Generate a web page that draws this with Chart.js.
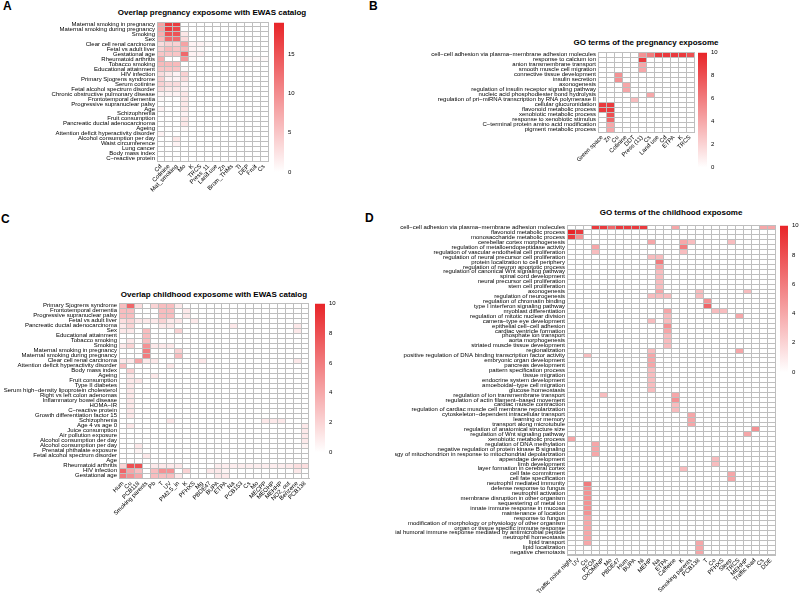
<!DOCTYPE html>
<html>
<head>
<meta charset="utf-8">
<title>Pregnancy and childhood exposome heatmaps</title>
<script src="https://cdn.jsdelivr.net/npm/chart.js@4.4.1/dist/chart.umd.min.js"></script>
<style>
  html, body { margin: 0; padding: 0; background: #fff; overflow: hidden; }
  #page { position: relative; width: 800px; height: 594px; overflow: hidden; font-family: "Liberation Sans", Arial, sans-serif; color: #000; }
  #page canvas { position: absolute; }
  .tag { position: absolute; font-size: 12px; font-weight: bold; line-height: 12px; }
  .title { position: absolute; width: 400px; text-align: center; font-size: 8px; font-weight: bold; line-height: 10px; white-space: nowrap; }
</style>
</head>
<body>
<div id="page">
  <div class="tag" style="left:3px;top:0px">A</div>
  <div class="tag" style="left:369px;top:0px">B</div>
  <div class="tag" style="left:1px;top:213px">C</div>
  <div class="tag" style="left:365px;top:212px">D</div>

  <div class="title" style="left:12px;top:8px">Overlap pregnancy exposome with EWAS catalog</div>
  <div class="title" style="left:446px;top:38px">GO terms of the pregnancy exposome</div>
  <div class="title" style="left:14px;top:290px">Overlap childhood exposome with EWAS catalog</div>
  <div class="title" style="left:471px;top:208px">GO terms of the childhood exposome</div>

  <canvas id="heatA" width="272" height="190" style="left:0px;top:14px"></canvas>
  <canvas id="barA" width="30" height="165" style="left:270px;top:15px"></canvas>
  <canvas id="heatB" width="280" height="132" style="left:420px;top:40px"></canvas>
  <canvas id="barB" width="30" height="130" style="left:694px;top:45px"></canvas>
  <canvas id="heatC" width="313" height="240" style="left:0px;top:295px"></canvas>
  <canvas id="barC" width="32" height="165" style="left:311px;top:296px"></canvas>
  <canvas id="heatD" width="384" height="379" style="left:395px;top:215px"></canvas>
  <canvas id="barD" width="24" height="162" style="left:776px;top:218px"></canvas>
</div>
<script>
// A: pregnancy exposome vs EWAS catalog
const rowsA = ["Maternal smoking in pregnancy", "Maternal smoking during pregnancy", "Smoking", "Sex",
  "Clear cell renal carcinoma", "Fetal vs adult liver", "Gestational age", "Rheumatoid arthritis",
  "Tobacco smoking", "Educational attainment", "HIV infection", "Primary Sjogrens syndrome",
  "Serum cotinine", "Fetal alcohol spectrum disorder", "Chronic obstructive pulmonary disease",
  "Frontotemporal dementia", "Progressive supranuclear palsy", "Age", "Schizophrenia",
  "Fruit consumption", "Pancreatic ductal adenocarcinoma", "Ageing",
  "Attention deficit hyperactivity disorder", "Alcohol consumption per day", "Waist circumference",
  "Lung cancer", "Body mass index", "C\u2212reactive protein"];
const colsA = ["Cd", "Cotinine", "Mat_smoking", "Mo", "K", "TRCS", "Press_11", "Land.use", "Zn",
  "Brom_THMs", "Ti", "DEP", "Fruit", "Cs"];
const valuesA = [
  [8, 17, 17, 0, 0,   0, 0, 0, 0, 0,   0, 0, 0, 0],
  [8, 17, 16, 0, 0,   0, 0, 0, 0, 0,   0, 0, 0, 0],
  [7, 15, 15, 2, 0,   0, 0, 0, 0, 0,   0, 0, 0, 0],
  [6, 13, 13, 3, 0,   0, 0, 0, 0, 0,   0, 0, 0, 0],
  [3, 4, 4, 8, 1,     1, 0.5, 0, 0, 0, 0, 0, 0, 0],
  [4, 6, 5, 6, 1,     0.5, 0, 0, 0, 0, 0, 0, 0, 0],
  [5, 5, 5, 13, 1,    1, 0, 0, 0, 0,   0, 0, 0, 0],
  [7, 0, 0, 9, 0.5,   0, 0, 0, 0, 0,   0.5, 0.5, 0.5, 0.5],
  [6, 6, 6, 0, 0,     0, 0, 0, 0, 0,   0, 0, 0, 0],
  [5, 5, 5, 0.5, 0,   0, 0, 0, 0, 0,   0, 0, 0, 0],
  [3, 2, 1, 4, 0,     0, 0, 0, 0, 0,   0, 0, 0, 0],
  [4, 1, 1, 3, 0,     0, 0, 0, 0, 0,   0, 0, 0, 0],
  [4, 3, 3, 1, 0,     0, 0, 0, 0, 0,   0, 0, 0, 0],
  [3, 2, 2, 1, 0,     0, 0, 0, 0, 0,   0, 0, 0, 0],
  [1, 1, 1, 2, 0,     0, 0, 0, 0, 0,   0, 0, 0, 0],
  [0.5, 0, 0, 2, 0,   0, 0, 0, 0, 0,   0, 0, 0, 0],
  [0, 0, 0, 2, 0,     0, 0, 0, 0, 0,   0, 0, 0, 0],
  [1, 0, 0, 2, 0,     0, 0, 0, 0, 0,   0, 0, 0, 0],
  [0, 0, 0, 1, 0,     0, 0, 0, 0, 0,   0, 0, 0, 0],
  [0, 0, 0, 2, 0,     0, 0, 0, 0, 0,   0, 0, 0, 0],
  [0, 0, 0, 2, 0,     0, 0, 0, 0, 0,   0, 0, 0, 0],
  [0, 0, 0, 0.5, 0,   0, 0, 0, 0, 0,   0, 0, 0, 0],
  [1, 0, 0, 0, 0,     0, 0, 0, 0, 0,   0, 0, 0, 0],
  [0, 0, 2, 0, 0,     0, 0, 0, 0, 0,   0, 0, 0, 0],
  [0, 0, 1, 0, 0,     0, 0, 0, 0, 0,   0, 0, 0, 0],
  [0, 0, 0, 0, 0,     0, 0, 0, 0, 0,   0, 0, 0, 0],
  [0, 0, 0, 0, 0,     0, 0, 0, 0, 0,   0, 0, 0, 0],
  [0, 0, 0, 0, 0,     0, 0, 0, 0, 0,   0, 0, 0, 0]
];
const maxA = 19, stepA = 5;

// B: GO terms, pregnancy
const rowsB = ["cell\u2212cell adhesion via plasma\u2212membrane adhesion molecules", "response to calcium ion",
  "anion transmembrane transport", "smooth muscle cell migration", "connective tissue development",
  "insulin secretion", "axonogenesis", "regulation of insulin receptor signaling pathway",
  "nucleic acid phosphodiester bond hydrolysis",
  "regulation of pri\u2212miRNA transcription by RNA polymerase II", "cellular glucuronidation",
  "flavonoid metabolic process", "xenobiotic metabolic process", "response to xenobiotic stimulus",
  "C\u2212terminal protein amino acid modification", "pigment metabolic process"];
const colsB = ["Green space", "Zn", "Cu", "Cotinine", "DDT", "Press (11)", "Cs", "Land use", "Cd",
  "ETPA", "K", "TRCS"];
const valuesB = [
  [0, 0, 0, 0, 0, 5, 6, 9, 9, 9, 9, 8],
  [0, 0, 0, 0, 0, 9, 0, 0, 0, 0, 0, 0],
  [0, 0, 0, 0, 0, 4, 0, 0, 0, 0, 0, 0],
  [0, 0, 0, 0, 0, 4, 0, 0, 0, 0, 0, 0],
  [0, 0, 5, 0, 0, 0, 0, 0, 0, 0, 0, 0],
  [0, 0, 5, 0, 0, 0, 0, 0, 0, 0, 0, 0],
  [0, 0, 0, 4, 0, 0, 0, 0, 0, 0, 0, 0],
  [0, 0, 0, 4, 0, 0, 0, 0, 0, 0, 0, 0],
  [0, 0, 0, 0, 0, 0, 4, 0, 0, 0, 0, 0],
  [0, 0, 0, 0, 3, 0, 0, 0, 0, 0, 0, 0],
  [9, 9, 0, 0, 0, 0, 0, 0, 0, 0, 0, 0],
  [9, 9, 0, 0, 0, 0, 0, 0, 0, 0, 0, 0],
  [0, 8, 0, 0, 0, 0, 0, 0, 0, 0, 0, 0],
  [0, 7, 0, 0, 0, 0, 0, 0, 0, 0, 0, 0],
  [0, 4, 0, 0, 0, 0, 0, 0, 0, 0, 0, 0],
  [0, 4, 0, 0, 0, 0, 0, 0, 0, 0, 0, 0]
];
const maxB = 10, stepB = 2;

// C: childhood exposome vs EWAS catalog
const rowsC = ["Primary Sjogrens syndrome", "Frontotemporal dementia", "Progressive supranuclear palsy",
  "Fetal vs adult liver", "Pancreatic ductal adenocarcinoma", "Sex", "Educational attainment",
  "Tobacco smoking", "Smoking", "Maternal smoking in pregnancy", "Maternal smoking during pregnancy",
  "Clear cell renal carcinoma", "Attention deficit hyperactivity disorder", "Body mass index", "Ageing",
  "Fruit consumption", "Type II diabetes", "Serum high\u2212density lipoprotein cholesterol",
  "Right vs left colon adenomas", "Inflammatory bowel disease", "HOMA\u2212IR", "C\u2212reactive protein",
  "Growth differentiation factor 15", "Schizophrenia", "Age 4 vs age 0", "Juice consumption",
  "Air pollution exposure", "Alcohol consumption der day", "Alcohol consumption per day",
  "Prenatal phthalate exposure", "Fetal alcohol spectrum disorder", "Age", "Rheumatoid arthritis",
  "HIV infection", "Gestational age"];
const colsC = ["Hum", "Cu", "PCB118", "Smoking parents", "Pb", "T", "UV", "PM2.5_in", "K", "PFHXS",
  "Mg", "PBDE47", "BUPA", "ETPA", "Na", "PCB153", "Cs", "Mo", "MECPP", "MEOHP", "MEHHP", "NO2_out",
  "Benzene", "PCB138"];
const valuesC = [
  [3, 7, 1.5, 0, 2,   3, 3, 1, 0, 0,   0, 0, 0, 0, 0,   0, 0, 0, 0, 0,   0, 0, 0, 0],
  [3, 3, 0, 0, 0,     3, 3, 0, 1, 0,   0, 0, 0, 0, 0,   0, 0, 0, 0, 0,   0, 0, 0, 0],
  [3, 3, 0, 0, 0,     3, 3, 0, 1, 0,   0, 0, 0, 0, 0,   0, 0, 0, 0, 0,   0, 0, 0, 0],
  [1.5, 2, 1, 1, 1,   2, 1, 1, 0, 1,   0, 0, 0, 0, 0,   0, 0, 0, 0, 0,   0, 0, 0, 0],
  [1, 2, 0, 0, 0,     1, 1, 0, 0, 0,   0, 0, 0, 0, 1,   0, 0, 0, 0, 0,   0, 0, 1, 0],
  [1, 1, 0, 3, 0,     0, 0, 2, 0, 0,   0, 0, 0, 0, 0,   0, 0, 0, 0, 0,   0, 0, 1, 0],
  [0, 0, 0, 3, 0,     0, 0, 0, 0, 0,   0, 0, 0, 0, 0,   0, 0, 0, 0, 0,   0, 0, 0, 0],
  [0, 1, 0, 3, 0,     0, 0, 0, 0, 0,   0, 0, 0, 0, 0,   0, 0, 0, 0, 0,   0, 0, 0, 0],
  [1, 2, 0, 5, 1,     1, 1, 0, 0, 0,   0, 0, 0, 0, 0,   0, 0, 0, 0, 0,   0, 0, 0, 0],
  [0, 0, 0, 6, 0,     0, 0, 2, 0, 0,   0, 0, 0, 0, 0,   0, 0, 0, 0, 0,   0, 0, 0, 0],
  [0, 0, 0, 6, 0,     0, 0, 3, 0, 0,   0, 0, 0, 0, 0,   0, 0, 0, 0, 0,   0, 0, 0, 0],
  [1, 1, 4, 1, 1,     0, 0, 0, 0, 0,   1, 0, 0, 0, 0,   0, 0, 0, 0, 0,   0, 0, 1, 0],
  [3, 0, 0, 0, 0,     0, 1, 0, 0, 0,   0, 0, 0, 0, 0,   0, 0, 0, 0, 0,   0, 0, 0, 0],
  [0, 2, 0, 0, 0,     0, 0, 0, 0, 0,   0, 0, 0, 0, 0,   0, 0, 0, 0, 0,   0, 0, 0, 0],
  [0, 1, 0, 0, 1,     0, 0, 0, 0, 0,   0, 0, 0, 0, 0,   0, 0, 0, 0, 0,   0, 0, 0, 0],
  [0, 1, 1, 0, 0,     0, 0, 0, 0, 0,   0, 0, 0, 0, 0,   0, 0, 0, 0, 0,   0, 0, 0, 0],
  [0, 1, 0, 0, 0,     0, 0, 0, 0, 0,   0, 0, 0, 0, 0,   0, 0, 0, 0, 0,   0, 0, 0, 0],
  [0, 1, 0, 0, 0,     0, 0, 0, 0, 0,   0, 0, 0, 0, 0,   0, 0, 0, 0, 0,   0, 0, 0, 0],
  [0, 1, 0, 0, 0,     0, 0, 0, 0, 0,   0, 0, 0, 0, 0,   0, 0, 0, 0, 0,   0, 0, 0, 0],
  [0, 1, 0, 0, 0,     0, 0, 0, 0, 0,   0, 0, 0, 0, 0,   0, 0, 0, 0, 0,   0, 0, 0, 0],
  [0, 1, 0, 0, 0,     0, 0, 0, 0, 0,   0, 0, 0, 0, 0,   0, 0, 0, 0, 0,   0, 0, 0, 0],
  [0, 1, 0, 0, 0,     0, 0, 0, 0, 0,   0, 0, 0, 0, 0,   0, 0, 0, 0, 0,   0, 0, 0, 0],
  [0, 1, 0, 0, 0,     0, 0, 0, 0, 0,   0, 0, 0, 0, 0,   0, 0, 0, 0, 0,   0, 0, 0, 0],
  [0, 0, 0, 0, 0,     0, 1, 0, 0, 0,   0, 0, 0, 0, 0,   0, 0, 0, 1, 1,   1, 0, 0, 0],
  [0, 1, 0, 0, 0,     0, 0, 0, 0, 0,   0, 0, 0, 0, 0,   0, 0, 0, 0, 0,   0, 0, 0, 1],
  [0, 0, 0, 0, 0,     0, 0, 0, 0, 0,   0, 0, 0, 0, 0,   0, 0, 0, 0, 0,   0, 0, 0, 1],
  [0, 0, 0, 0, 0,     0, 0, 0, 0, 0,   0, 0, 0, 0, 0,   0, 0, 0, 0, 0,   0, 0, 0, 1],
  [0, 0, 0, 0, 0,     0, 0, 0, 0, 0,   0, 0, 0, 0, 0,   0, 0, 0, 0, 0,   0, 0, 0, 1],
  [0, 0, 1, 0, 0,     0, 0, 0, 0, 0,   0, 0, 0, 0, 0,   0, 0, 0, 0, 0,   0, 0, 0, 0.5],
  [0, 0, 0.5, 0, 0,   0, 0, 0, 0, 0,   0, 0, 0, 0, 0,   0, 0, 0, 0, 0,   0, 0, 0, 0],
  [0, 0, 0, 1, 0,     0, 0, 0, 0, 0,   0, 0, 0, 0, 0,   0, 0, 0, 0, 0,   0, 0, 0, 0],
  [0, 0, 0, 0, 0,     0, 0, 0, 0, 0,   0, 0, 0, 0, 0,   0, 0, 0, 0, 0,   0, 0, 0, 0],
  [2, 8, 8, 0, 1,     1, 1, 1, 0, 0,   0, 0, 0.8, 0.8, 0.8,   0.8, 0.8, 0.8, 0.8, 0.8,   0.8, 1, 1.5, 1.5],
  [7, 4, 3, 0, 3,     5, 5, 0, 2, 0,   0, 1, 1, 0.5, 0, 0, 0, 0, 0, 0,   0, 0, 1, 0],
  [6, 5, 4, 0, 3,     3, 3, 1, 0, 0,   0, 0, 1, 1, 0,   0, 0, 0, 0, 0,   0, 0, 0, 0]
];
const maxC = 10, stepC = 2;

// D: GO terms, childhood
const rowsD = ["cell\u2212cell adhesion via plasma\u2212membrane adhesion molecules", "flavonoid metabolic process",
  "monosaccharide metabolic process", "cerebellar cortex morphogenesis",
  "regulation of metalloendopeptidase activity", "regulation of vascular endothelial cell proliferation",
  "regulation of neural precursor cell proliferation", "protein localization to cell periphery",
  "regulation of neuron apoptotic process", "regulation of canonical Wnt signaling pathway",
  "spinal cord development", "neural precursor cell proliferation", "stem cell proliferation",
  "axonogenesis", "regulation of neurogenesis", "regulation of chromatin binding",
  "type I interferon signaling pathway", "myoblast differentiation",
  "regulation of mitotic nuclear division", "camera\u2212type eye development",
  "epithelial cell\u2212cell adhesion", "cardiac ventricle formation", "phosphate ion transport",
  "aorta morphogenesis", "striated muscle tissue development", "regionalization",
  "positive regulation of DNA binding transcription factor activity", "embryonic organ development",
  "pancreas development", "pattern specification process", "tissue migration",
  "endocrine system development", "amoeboidal\u2212type cell migration", "glucose homeostasis",
  "regulation of ion transmembrane transport", "regulation of actin filament\u2212based movement",
  "cardiac muscle contraction", "regulation of cardiac muscle cell membrane repolarization",
  "cytoskeleton\u2212dependent intracellular transport", "learning or memory",
  "transport along microtubule", "regulation of anatomical structure size",
  "regulation of Wnt signaling pathway", "xenobiotic metabolic process",
  "regulation of DNA methylation", "negative regulation of protein kinase B signaling",
  "regulation of autophagy of mitochondrion in response to mitochondrial depolarization",
  "appendage development", "limb development", "layer formation in cerebral cortex",
  "cell fate commitment", "cell fate specification", "neutrophil mediated immunity",
  "defense response to fungus", "neutrophil activation", "membrane disruption in other organism",
  "sequestering of metal ion", "innate immune response in mucosa", "maintenance of location",
  "response to fungus", "modification of morphology or physiology of other organism",
  "organ or tissue specific immune response",
  "antimicrobial humoral immune response mediated by antimicrobial peptide",
  "neutrophil homeostasis", "lipid transport", "lipid localization", "negative chemotaxis"];
const colsD = ["Traffic noise night", "UV", "Cu", "PFOA", "OXOMINP", "Mo", "PBDE47", "Hum", "BUPA",
  "Ni", "MEHP", "Na", "ETPA", "Caffeine", "K", "Smoking parents", "PCB138", "T", "Co", "PFHXS",
  "Sleep", "TRCS", "MEHHP", "Traffic load", "Cs", "DDE"];
const valuesD = [
  [0, 0, 0, 9, 9,   7, 9, 9, 9, 9,   0, 0, 0, 4, 0,   0, 0, 0, 0, 0,   0, 0, 0, 0, 4,   4],
  [10, 9, 0, 0, 0,  0, 0, 0, 0, 0,   0, 0, 0, 0, 0,   0, 0, 0, 0, 0,   0, 0, 0, 0, 0,   0],
  [9, 5, 0, 0, 0,   0, 0, 0, 0, 0,   0, 0, 0, 0, 0,   0, 0, 0, 0, 0,   0, 0, 0, 0, 0,   0],
  [0, 0, 0, 0, 0,   0, 0, 0, 0, 0,   4, 0, 0, 0, 4,   3, 0, 0, 0, 0,   3, 0, 0, 0, 0,   0],
  [0, 0, 0, 4, 0,   0, 0, 0, 0, 0,   0, 0, 0, 0, 6,   0, 0, 0, 0, 0,   0, 0, 0, 0, 0,   0],
  [0, 0, 0, 3, 0,   0, 0, 0, 0, 0,   0, 0, 0, 0, 3,   0, 0, 0, 0, 0,   0, 0, 0, 0, 0,   0],
  [0, 0, 0, 0, 0,   0, 0, 0, 0, 0,   3, 3, 0, 0, 0,   0, 0, 0, 0, 0,   0, 0, 0, 0, 0,   0],
  [0, 0, 0, 0, 0,   0, 0, 0, 0, 0,   0, 6, 0, 0, 0,   0, 0, 0, 0, 0,   0, 0, 0, 0, 0,   0],
  [0, 0, 0, 0, 0,   0, 0, 0, 0, 0,   0, 4, 0, 0, 0,   0, 0, 0, 0, 0,   0, 0, 0, 0, 0,   0],
  [0, 0, 0, 0, 0,   0, 0, 0, 0, 0,   0, 3, 0, 0, 0,   0, 0, 0, 0, 0,   0, 0, 0, 0, 0,   0],
  [0, 0, 0, 0, 0,   0, 0, 0, 0, 0,   0, 3, 0, 0, 0,   0, 0, 0, 0, 0,   0, 0, 0, 0, 0,   0],
  [0, 0, 0, 0, 0,   0, 0, 0, 0, 0,   0, 3, 0, 0, 0,   0, 0, 0, 0, 0,   0, 0, 0, 0, 0,   0],
  [0, 0, 0, 0, 0,   0, 0, 0, 0, 0,   0, 3, 0, 0, 0,   0, 0, 0, 0, 0,   0, 0, 0, 0, 0,   0],
  [0, 0, 0, 0, 0,   0, 0, 0, 0, 0,   0, 4, 0, 0, 0,   0, 3, 0, 0, 0,   0, 0, 3, 0, 0,   0],
  [0, 0, 0, 0, 0,   0, 0, 0, 0, 0,   3, 3, 3, 0, 0,   0, 3, 0, 0, 0,   0, 0, 0, 0, 0,   0],
  [0, 0, 0, 0, 0,   0, 0, 0, 0, 0,   0, 0, 0, 0, 0,   0, 0, 5, 0, 0,   0, 0, 0, 0, 0,   0],
  [0, 0, 0, 0, 0,   0, 0, 0, 0, 0,   0, 0, 0, 0, 0,   0, 0, 7, 0, 0,   0, 0, 0, 0, 0,   0],
  [0, 0, 0, 0, 0,   0, 0, 0, 0, 0,   0, 0, 4, 0, 0,   0, 0, 0, 3, 3,   0, 0, 0, 0, 0,   0],
  [0, 0, 0, 0, 0,   0, 0, 0, 0, 0,   0, 0, 3, 0, 0,   0, 0, 0, 0, 0,   0, 4, 0, 0, 0,   0],
  [0, 0, 0, 0, 0,   0, 0, 0, 0, 0,   3, 0, 3, 0, 0,   0, 0, 0, 0, 0,   0, 0, 0, 0, 0,   0],
  [0, 0, 0, 0, 0,   0, 0, 0, 0, 0,   0, 0, 5, 0, 0,   0, 0, 0, 0, 0,   0, 0, 0, 0, 0,   0],
  [0, 0, 0, 0, 0,   0, 0, 0, 0, 0,   0, 0, 4, 0, 0,   0, 0, 0, 0, 0,   0, 0, 0, 0, 0,   0],
  [0, 0, 0, 0, 0,   0, 0, 0, 0, 0,   0, 0, 3, 0, 0,   0, 0, 0, 0, 0,   0, 0, 0, 0, 0,   0],
  [0, 0, 0, 0, 0,   0, 0, 0, 0, 0,   0, 0, 3, 0, 0,   0, 0, 0, 0, 0,   0, 0, 0, 0, 0,   0],
  [0, 0, 0, 0, 0,   0, 0, 0, 0, 0,   0, 0, 3, 0, 0,   0, 0, 0, 0, 0,   0, 0, 0, 0, 0,   0],
  [0, 0, 0, 0, 0,   0, 0, 0, 0, 0,   3, 0, 0, 0, 0,   0, 0, 0, 0, 0,   0, 4, 0, 0, 0,   0],
  [0, 0, 3, 0, 0,   0, 0, 0, 0, 0,   4, 0, 0, 0, 0,   0, 0, 0, 0, 0,   0, 0, 0, 0, 0,   0],
  [0, 0, 0, 0, 0,   0, 0, 0, 0, 0,   4, 0, 0, 0, 0,   0, 0, 0, 0, 0,   0, 0, 0, 0, 0,   0],
  [0, 0, 0, 0, 0,   0, 0, 0, 0, 0,   4, 0, 0, 0, 0,   0, 0, 0, 0, 0,   0, 0, 0, 0, 0,   0],
  [0, 0, 0, 0, 0,   0, 0, 0, 0, 0,   3, 0, 0, 0, 0,   0, 0, 0, 0, 0,   0, 0, 0, 0, 0,   0],
  [0, 0, 0, 0, 0,   0, 0, 0, 0, 0,   3, 0, 0, 0, 0,   0, 0, 0, 0, 0,   0, 0, 0, 0, 0,   0],
  [0, 0, 0, 0, 0,   0, 0, 0, 0, 0,   3, 0, 0, 0, 0,   0, 0, 0, 0, 0,   0, 0, 0, 0, 0,   0],
  [0, 0, 0, 0, 0,   0, 0, 0, 0, 0,   3, 0, 0, 0, 0,   0, 0, 0, 0, 0,   0, 0, 0, 0, 0,   0],
  [0, 0, 0, 0, 0,   0, 0, 0, 0, 0,   3, 0, 0, 0, 0,   0, 0, 0, 0, 0,   0, 0, 0, 0, 0,   0],
  [0, 0, 0, 0, 3,   0, 0, 0, 0, 0,   0, 0, 0, 4, 0,   0, 0, 0, 0, 0,   0, 0, 0, 0, 0,   0],
  [0, 0, 0, 0, 0,   0, 0, 0, 0, 0,   0, 0, 0, 5, 0,   0, 0, 0, 0, 0,   0, 0, 0, 0, 0,   0],
  [0, 0, 0, 0, 0,   0, 0, 0, 0, 0,   0, 0, 0, 3, 0,   0, 0, 0, 0, 0,   0, 0, 0, 0, 0,   0],
  [0, 0, 0, 0, 0,   0, 0, 0, 0, 0,   0, 0, 0, 3, 0,   0, 0, 0, 0, 0,   0, 0, 0, 0, 0,   0],
  [0, 0, 0, 0, 0,   0, 0, 0, 0, 0,   0, 0, 0, 0, 0,   4, 0, 0, 0, 0,   0, 0, 0, 0, 0,   0],
  [0, 0, 0, 0, 0,   0, 0, 0, 0, 0,   0, 0, 0, 0, 0,   4, 0, 0, 0, 0,   0, 0, 0, 0, 0,   0],
  [0, 0, 0, 0, 0,   0, 0, 0, 0, 0,   0, 0, 0, 0, 0,   4, 0, 0, 0, 0,   0, 0, 0, 0, 0,   0],
  [0, 0, 0, 0, 0,   0, 0, 0, 0, 0,   0, 0, 0, 0, 0,   0, 0, 0, 0, 0,   0, 0, 0, 5, 0,   0],
  [0, 0, 0, 0, 0,   0, 0, 0, 0, 0,   0, 0, 0, 0, 0,   0, 0, 0, 0, 0,   0, 0, 4, 0, 0,   0],
  [4, 0, 0, 0, 0,   0, 0, 0, 0, 0,   0, 0, 0, 0, 0,   0, 0, 0, 0, 0,   0, 0, 0, 0, 0,   0],
  [0, 0, 0, 4, 0,   0, 0, 0, 0, 0,   0, 0, 0, 0, 0,   0, 0, 0, 0, 0,   0, 0, 0, 0, 0,   0],
  [0, 0, 0, 4, 0,   0, 0, 0, 0, 0,   0, 0, 0, 0, 0,   0, 0, 0, 0, 0,   0, 0, 0, 0, 0,   0],
  [0, 0, 0, 4, 0,   0, 0, 0, 0, 0,   0, 0, 0, 0, 0,   0, 0, 0, 0, 0,   0, 0, 0, 0, 0,   0],
  [0, 0, 0, 0, 0,   0, 0, 0, 0, 0,   0, 0, 0, 0, 0,   0, 0, 0, 3, 0,   0, 0, 0, 0, 0,   0],
  [0, 0, 0, 0, 0,   0, 0, 0, 0, 0,   0, 0, 0, 0, 0,   0, 0, 0, 3, 0,   0, 0, 0, 0, 0,   0],
  [0, 0, 0, 0, 0,   0, 0, 0, 0, 0,   0, 0, 0, 0, 3,   0, 0, 0, 0, 0,   0, 0, 0, 0, 0,   0],
  [0, 0, 0, 0, 0,   0, 0, 0, 0, 0,   0, 0, 0, 0, 0,   0, 0, 0, 0, 0,   4, 0, 0, 0, 0,   0],
  [0, 0, 0, 0, 0,   0, 0, 0, 0, 0,   0, 0, 0, 0, 0,   0, 0, 0, 0, 0,   4, 0, 0, 0, 0,   0],
  [0, 0, 6, 0, 0,   0, 0, 0, 0, 0,   0, 0, 0, 0, 0,   0, 0, 0, 0, 0,   0, 0, 0, 0, 0,   0],
  [0, 0, 5, 0, 0,   0, 0, 0, 0, 0,   0, 0, 0, 0, 0,   0, 0, 0, 0, 0,   0, 0, 0, 0, 0,   0],
  [0, 0, 5, 0, 0,   0, 0, 0, 0, 0,   0, 0, 0, 0, 0,   0, 0, 0, 0, 0,   0, 0, 0, 0, 0,   0],
  [0, 0, 5, 0, 0,   0, 0, 0, 0, 0,   0, 0, 0, 0, 0,   0, 0, 0, 0, 0,   0, 0, 0, 0, 0,   0],
  [0, 0, 5, 0, 0,   0, 0, 0, 0, 0,   0, 0, 0, 0, 0,   0, 0, 0, 0, 0,   0, 0, 0, 0, 0,   0],
  [0, 0, 5, 0, 0,   0, 0, 0, 0, 0,   0, 0, 0, 0, 0,   0, 0, 0, 0, 0,   0, 0, 0, 0, 0,   0],
  [0, 0, 5, 0, 0,   0, 0, 0, 0, 0,   0, 0, 0, 0, 0,   0, 0, 0, 0, 0,   0, 0, 0, 0, 0,   0],
  [0, 0, 4, 0, 0,   0, 0, 0, 0, 0,   0, 0, 0, 0, 0,   0, 0, 0, 0, 0,   0, 0, 0, 0, 0,   0],
  [0, 0, 4, 0, 0,   0, 0, 0, 0, 0,   0, 0, 0, 0, 0,   0, 0, 0, 0, 0,   0, 0, 0, 0, 0,   0],
  [0, 0, 4, 0, 0,   0, 0, 0, 0, 0,   0, 0, 0, 0, 0,   0, 0, 0, 0, 0,   0, 0, 0, 0, 0,   0],
  [0, 0, 4, 0, 0,   0, 0, 0, 0, 0,   0, 0, 0, 0, 0,   0, 0, 0, 0, 0,   0, 0, 0, 0, 0,   0],
  [0, 0, 4, 0, 0,   0, 0, 0, 0, 0,   0, 0, 0, 0, 0,   0, 0, 0, 0, 0,   0, 0, 0, 0, 0,   0],
  [0, 0, 4, 0, 0,   0, 0, 0, 0, 0,   0, 0, 0, 0, 0,   0, 4, 0, 0, 0,   0, 0, 0, 0, 0,   0],
  [0, 0, 0, 0, 0,   0, 0, 0, 0, 0,   0, 0, 0, 0, 0,   0, 4, 0, 0, 0,   0, 0, 0, 0, 0,   0],
  [0, 0, 0, 0, 0,   0, 0, 0, 0, 0,   0, 0, 0, 0, 0,   0, 4, 0, 0, 0,   0, 0, 0, 0, 0,   0]
];
const maxD = 10, stepD = 2;

Chart.defaults.font.family = "'Liberation Sans', Arial, sans-serif";
Chart.defaults.color = "#000";
Chart.defaults.animation = false;

const GRID = "#bebebe";
const RED = [232, 36, 40];

// white -> red, like the heatmap legend
function cellColor(v, max) {
  const t = Math.min(v / max, 1);
  const c = RED.map(k => Math.round(255 + (k - 255) * t));
  return "rgb(" + c.join(",") + ")";
}

// each row is a dataset of floating bars [r, r+1], one bar per column
function heatmap(id, rows, cols, values, max, box) {
  return new Chart(document.getElementById(id), {
    type: "bar",
    data: {
      labels: cols,
      datasets: rows.map((row, r) => ({
        label: row,
        data: cols.map(() => [r, r + 1]),
        backgroundColor: values[r].map(v => cellColor(v, max)),
        borderWidth: 0,
        grouped: false,
        barPercentage: 1,
        categoryPercentage: 1,
        inflateAmount: 0
      }))
    },
    options: {
      responsive: false,
      layout: { padding: { top: box.top, right: box.right } },
      plugins: { legend: { display: false }, tooltip: { enabled: false } },
      scales: {
        x: {
          grid: { offset: true, color: GRID, drawTicks: false, z: 1 },
          border: { color: GRID, z: 1 },
          ticks: { autoSkip: false, minRotation: 45, maxRotation: 45, padding: 2, font: { size: 6 } },
          afterFit: s => { s.height = box.xHeight; }
        },
        y: {
          min: 0,
          max: rows.length,
          reverse: true,
          grid: { offset: true, color: GRID, drawTicks: false, z: 1 },
          border: { color: GRID, z: 1 },
          afterBuildTicks: s => { s.ticks = rows.map((_, i) => ({ value: i + 0.5 })); },
          ticks: { autoSkip: false, padding: 2, font: { size: 6 }, callback: (v, i) => rows[i] },
          afterFit: s => { s.width = box.yWidth; }
        }
      }
    }
  });
}

function colorbar(id, max, step, box) {
  return new Chart(document.getElementById(id), {
    type: "bar",
    data: {
      labels: [""],
      datasets: [{
        data: [[0, max]],
        backgroundColor: ctx => {
          const area = ctx.chart.chartArea;
          if (!area) return cellColor(max, max);
          const g = ctx.chart.ctx.createLinearGradient(0, area.bottom, 0, area.top);
          g.addColorStop(0, cellColor(0, max));
          g.addColorStop(1, cellColor(max, max));
          return g;
        },
        barPercentage: 1,
        categoryPercentage: 1,
        inflateAmount: 0
      }]
    },
    options: {
      responsive: false,
      layout: { padding: { left: box.left, top: box.top, bottom: box.bottom } },
      plugins: { legend: { display: false }, tooltip: { enabled: false } },
      scales: {
        x: { display: false },
        y: {
          position: "right",
          min: 0,
          max: max,
          grid: { display: false, drawTicks: false },
          border: { display: false },
          ticks: { stepSize: step, includeBounds: false, padding: 4, font: { size: 6 } },
          afterFit: s => { s.width = box.axis; }
        }
      }
    }
  });
}

heatmap("heatA", rowsA, colsA, valuesA, maxA, { top: 8, right: 4, yWidth: 157, xHeight: 43 });
colorbar("barA", maxA, stepA, { left: 4, top: 7, bottom: 8, axis: 16 });

heatmap("heatB", rowsB, colsB, valuesB, maxB, { top: 12, right: 6, yWidth: 178, xHeight: 40 });
colorbar("barB", maxB, stepB, { left: 4, top: 7, bottom: 6, axis: 17 });

heatmap("heatC", rowsC, colsC, valuesC, maxC, { top: 8, right: 4, yWidth: 119, xHeight: 57 });
colorbar("barC", maxC, stepC, { left: 4, top: 7, bottom: 9, axis: 18 });

heatmap("heatD", rowsD, colsD, valuesD, maxD, { top: 10, right: 4, yWidth: 172, xHeight: 39 });
colorbar("barD", maxD, stepD, { left: 4, top: 5, bottom: 8, axis: 12 });
</script>
</body>
</html>
